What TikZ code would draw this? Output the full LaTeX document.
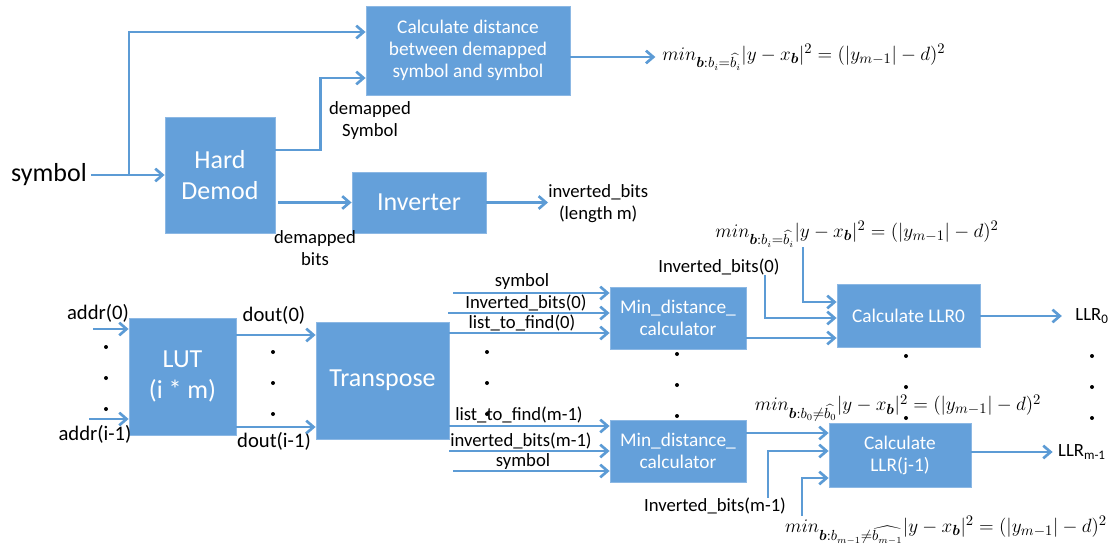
\documentclass[tikz,border=0pt]{standalone}
\usepackage{amsmath, amssymb}
\usepackage{bm}
\usepackage{fontspec}
\setmainfont{Carlito}
\usetikzlibrary{arrows.meta,calc,positioning}
\definecolor{boxblue}{HTML}{64A0DA}
\definecolor{boxedge}{HTML}{8CB8E4}
\definecolor{wireblue}{HTML}{5C9BD5}

\begin{document}
\begin{tikzpicture}[x=0.75pt,y=-0.75pt,
    blk/.style={draw=boxedge,line width=0.6pt,fill=boxblue,text=white,inner sep=0pt,align=center},
    bigfont/.style={font=\fontsize{19.5}{23}\selectfont},
    midfont/.style={font=\fontsize{14.5}{16.5}\selectfont},
    lbl/.style={inner sep=0pt,align=center,font=\fontsize{14}{16.5}\selectfont},
    lblb/.style={inner sep=0pt,align=center,font=\fontsize{15.5}{18}\selectfont},
    eq/.style={inner sep=0pt,font=\fontsize{15}{18}\selectfont},
    arr/.style={wireblue,line width=2pt,-{Straight Barb[length=5.5pt,width=9.5pt]}}]
        \useasboundingbox (0,0) rectangle (1115,546);
        % Draw the blocks
        \node[blk,midfont,minimum width=153pt,minimum height=66.75pt] (dist) at (468,50.5) {Calculate distance\\between demapped\\symbol and symbol};
        \node[blk,bigfont,minimum width=82.5pt,minimum height=87pt] (hd) at (220,175) {Hard\\Demod};
        \node[blk,bigfont,minimum width=100.5pt,minimum height=45.75pt] (inv) at (419,202.5) {Inverter};
        \node[blk,bigfont,minimum width=80.25pt,minimum height=87.75pt] (lut) at (182.5,376.5) {LUT\\(i * m)};
        \node[blk,bigfont,minimum width=99.75pt,minimum height=87.75pt] (tr) at (382.5,380.5) {Transpose};
        \node[blk,midfont,minimum width=102pt,minimum height=46.5pt] (mdt) at (678,318) {Min\_distance\_\\calculator};
        \node[blk,midfont,minimum width=102pt,minimum height=46.5pt] (mdb) at (678,451) {Min\_distance\_\\calculator};
        \node[blk,midfont,minimum width=107.25pt,minimum height=47.25pt] (llr0) at (908.5,315.5) {Calculate LLR0};
        \node[blk,midfont,minimum width=106.5pt,minimum height=48pt] (llrj) at (900,455) {Calculate\\LLR(j-1)};
        %demodulator part
        \node[bigfont] (sym) at (49,175) {symbol};
        \coordinate (split) at (129,175);
        \draw[arr] (sym.east) -- (hd.west);
        \draw[arr] (split) |- (dist.west |- 0,32);
        \draw[arr] (hd.east |- 0,150) -- ++(45,0) |- (dist.west |- 0,78);
        \node[lbl] (dsym) at (370,121) {demapped\\Symbol};
        \draw[arr] (278,0 |- inv.west) -- (inv.west);
        \node[lbl] (dbits) at (315,248) {demapped\\bits};
        \node[lbl,anchor=west] (ibits) at (548,204) {inverted\_bits\\(length m)};
        \draw[arr] (inv.east) -- (inv.east -| ibits.west);
        \node[eq,anchor=west] (f1) at (662,57) {$min_{\bm{b}:b_i=\widehat{b_i}}|y-x_{\bm{b}}|^2=(|y_{m-1}|-d)^2$};
        \draw[arr,shorten >=5pt] (dist.east |- f1.west) -- (f1.west);
        % LUT inputs and outputs
        \node[lblb] (a0) at (98,313) {addr(0)};
        \coordinate (a0in) at (93,329);
        \draw[arr] (a0in) -- (lut.west |- a0in);
        \node[lblb] (ai) at (95,434) {addr(i-1)};
        \coordinate (aiin) at (89,419);
        \draw[arr] (aiin) -- (lut.west |- aiin);
        \node[lblb] (d0) at (274,315) {dout(0)};
        \draw[arr] (lut.east |- 0,335) -- (tr.west |- 0,335);
        \node[lblb] (di) at (274,441) {dout(i-1)};
        \draw[arr] (lut.east |- 0,427) -- (tr.west |- 0,427);
        % inputs of the min distance blocks
        \node[lbl] (s0) at (522,282) {symbol};
        \coordinate (s0in) at (453,293);
        \draw[arr] (s0in) -- (mdt.west |- s0in);
        \node[lbl] (ib0a) at (526,303) {Inverted\_bits(0)};
        \coordinate (ib0in) at (448,313);
        \draw[arr] (ib0in) -- (mdt.west |- ib0in);
        \node[lbl] (lf0) at (522,323) {list\_to\_find(0)};
        \draw[arr] (tr.east |- 0,333) -- (mdt.west |- 0,333);
        \node[lbl] (lfm) at (519,415) {list\_to\_find(m-1)};
        \draw[arr] (tr.east |- 0,426) -- (mdb.west |- 0,426);
        \node[lbl] (ibm) at (521,441) {inverted\_bits(m-1)};
        \coordinate (ibmin) at (449,451);
        \draw[arr] (ibmin) -- (mdb.west |- ibmin);
        \node[lbl] (sm) at (523,462) {symbol};
        \coordinate (smin) at (453,471);
        \draw[arr] (smin) -- (mdb.west |- smin);
        % LLR0
        \node[eq] (f2) at (857,234) {$min_{\bm{b}:b_i=\widehat{b_i}}|y-x_{\bm{b}}|^2=(|y_{m-1}|-d)^2$};
        \node[lbl] (ib0b) at (719,267) {Inverted\_bits(0)};
        \draw[arr] (ib0b.south -| 765,0) |- (llr0.west |- 0,318);
        \draw[arr] (f2.south -| 803,0) |- (llr0.west |- 0,302);
        \draw[arr] (mdt.east |- 0,338) -- (llr0.west |- 0,338);
        \node[lbl] (lo) at (1092,316) {LLR\textsubscript{0}};
        \draw[arr,shorten >=10pt] (llr0.east |- lo) -- (lo.west);
        % LLR(j-1)
        \draw[arr] (mdb.east |- 0,433) -- (llrj.west |- 0,433);
        \node[lbl] (ibm2) at (715,506) {Inverted\_bits(m-1)};
        \draw[arr] (ibm2.north -| 768,0) |- (llrj.west |- 0,451);
        \node[eq] (f3) at (898,408) {$min_{\bm{b}:b_0\neq\widehat{b_0}}|y-x_{\bm{b}}|^2=(|y_{m-1}|-d)^2$};
        \node[eq] (f4) at (946,530) {$min_{\bm{b}:b_{m-1}\neq\widehat{b_{m-1}}}|y-x_{\bm{b}}|^2=(|y_{m-1}|-d)^2$};
        \draw[arr] (f4.north -| 802,0) |- (llrj.west |- 0,478);
        \node[lbl] (lm) at (1082,452) {LLR\textsubscript{m-1}};
        \draw[arr,shorten >=4pt] (llrj.east |- lm) -- (lm.west);
        % vertical dots
        \foreach \x/\y in {106/347,273/352,487/352,677/354,906/356,1092/356}
          \foreach \d in {0,31,62}
            \fill (\x,\y+\d) circle[radius=2];
\end{tikzpicture}
\end{document}
